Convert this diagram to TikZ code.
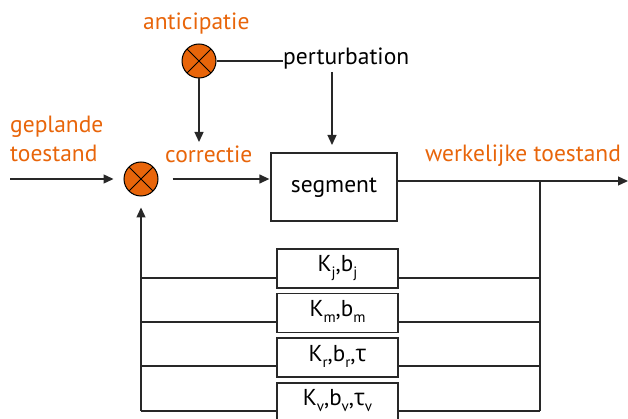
\documentclass[tikz,border=0pt]{standalone}
\usepackage{fontspec}
\setmainfont{PT Sans}
\newfontfamily\greekfont{Open Sans}
\usetikzlibrary{arrows.meta}
\definecolor{accent}{RGB}{232,101,10}
\definecolor{ink}{RGB}{40,40,40}
\tikzset{
  wire/.style={draw=ink, line width=1.3pt},
  arr/.style={wire, -{Triangle[length=10pt,width=9pt]}},
  mixer/.style={circle, draw=black, line width=1pt, fill=accent, minimum size=34pt, inner sep=0pt,
    path picture={
      \draw[black, line width=1pt] (path picture bounding box.north west) -- (path picture bounding box.south east)
        (path picture bounding box.north east) -- (path picture bounding box.south west);}},
  block/.style={draw=ink, line width=1.3pt, fill=white, inner sep=0pt},
  orangetxt/.style={text=accent, font=\fontsize{23.5}{29}\selectfont, inner sep=0pt},
  blacktxt/.style={text=black, font=\fontsize{23.5}{28}\selectfont, inner sep=0pt},
  boxtxt/.style={text=black, font=\fontsize{23}{26}\selectfont, inner sep=0pt},
}
\newcommand{\tauchar}{{\greekfont τ}}
\newcommand{\lowsub}[1]{\raisebox{-0.3em}{\fontsize{15}{15}\selectfont #1}}
\begin{document}
\begin{tikzpicture}[x=1pt,y=-1pt]
  \useasboundingbox (0,0) rectangle (628,419);

  % labels
  \node[orangetxt, anchor=base west] (antlbl) at (143,30) {anticipatie};
  \node[orangetxt, anchor=base west] (plan1) at (10,133) {geplande};
  \node[orangetxt, anchor=base west] (plan2) at (10,162) {toestand};
  \node[orangetxt, anchor=base west] (corrlbl) at (165,163) {correctie};
  \node[orangetxt, anchor=base west] (actual) at (425,162) {werkelijke toestand};

  % summing junctions
  \node[mixer] (ant) at (199,61) {};
  \node[mixer] (sum) at (141,179) {};

  % disturbance
  \node[blacktxt, anchor=base west] (pert) at (283,65) {perturbation};

  % plant
  \node[block, minimum width=126pt, minimum height=68pt] (seg) at (334,187) {};
  \node[blacktxt, anchor=base] (seglbl) at (334,193) {segment};

  % feedback blocks
  \node[block, minimum width=121pt, minimum height=39pt] (fb1) at (337.5,268.5) {};
  \node[block, minimum width=121pt, minimum height=39pt] (fb2) at (337.5,313) {};
  \node[block, minimum width=121pt, minimum height=39pt] (fb3) at (337.5,357.5) {};
  \node[block, minimum width=121pt, minimum height=39pt] (fb4) at (337.5,402.5) {};
  \node[boxtxt, anchor=base] (fb1lbl) at (337.5,271) {K\lowsub{j},b\lowsub{j}};
  \node[boxtxt, anchor=base] (fb2lbl) at (337.5,316) {K\lowsub{m},b\lowsub{m}};
  \node[boxtxt, anchor=base] (fb3lbl) at (337.5,361) {K\lowsub{r},b\lowsub{r},\tauchar};
  \node[boxtxt, anchor=base] (fb4lbl) at (337.5,405) {K\lowsub{v},b\lowsub{v},\tauchar\lowsub{v}};

  % free ends and branch points
  \coordinate (src) at (10,179);
  \coordinate (corrtip) at (199,142);
  \coordinate (perttop) at (332,72);
  \coordinate (perttip) at (332,145);
  \coordinate (sink) at (628,181);
  \coordinate (tap) at (540,181);
  \coordinate (rbus) at (540,411);
  \coordinate (lbus) at (141,411);

  % forward path
  \draw[arr, shorten >=10pt] (src) -- (sum.west);
  \draw[arr, shorten <=14pt, shorten >=1pt] (sum.east) -- (sum.east -| seg.west);
  \draw[arr] (seg.east |- sink) -- (sink);

  % anticipation and disturbance
  \draw[wire] (ant.east) -- (ant.east -| pert.west);
  \draw[arr] (ant.south) -- (corrtip);
  \draw[arr] (perttop) -- (perttip);

  % feedback buses
  \draw[wire] (tap) -- (rbus);
  \draw[arr, shorten >=11pt] (lbus) -- (sum.south);
  \foreach \b/\y in {fb1/278, fb2/322, fb3/366, fb4/411} {
    \draw[wire] (\b.east |- 0,\y) -- (540,\y);
    \draw[wire] (141,\y) -- (\b.west |- 0,\y);
  }
\end{tikzpicture}
\end{document}
